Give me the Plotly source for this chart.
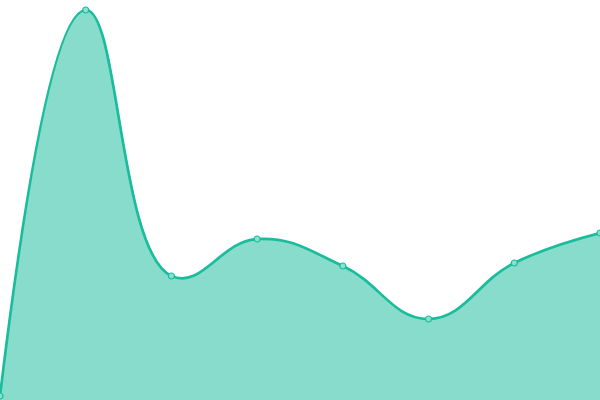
import plotly.graph_objects as go

x_values = [0, 1, 2, 3, 4, 5, 6, 7]
y_values = [1, 97.5, 31, 40.25, 33.5, 20.25, 34.25, 41.75]

fig = go.Figure()

fig.add_trace(go.Scatter(
    x=x_values,
    y=y_values,
    mode='lines+markers',
    line=dict(color='#1abc9c', width=2.7, shape='spline', smoothing=1.25),
    fill='tozeroy',
    fillcolor='rgba(26, 188, 156, 0.52)',
    marker=dict(size=6, color='#8ce0cf', line=dict(color='#1abc9c', width=1.2)),
    hoverinfo='skip',
))

fig.update_layout(
    width=600,
    height=400,
    margin=dict(l=0, r=0, t=0, b=0),
    paper_bgcolor='white',
    plot_bgcolor='white',
    showlegend=False,
    xaxis=dict(range=[0, 7], visible=False, fixedrange=True),
    yaxis=dict(range=[0, 100], visible=False, fixedrange=True),
)

# page body has a default 8px margin; drop it so the chart sits flush
fig.write_html(
    "out.html",
    config=dict(displayModeBar=False),
    post_script="document.body.style.margin = '0'; document.body.style.overflow = 'hidden';",
)
